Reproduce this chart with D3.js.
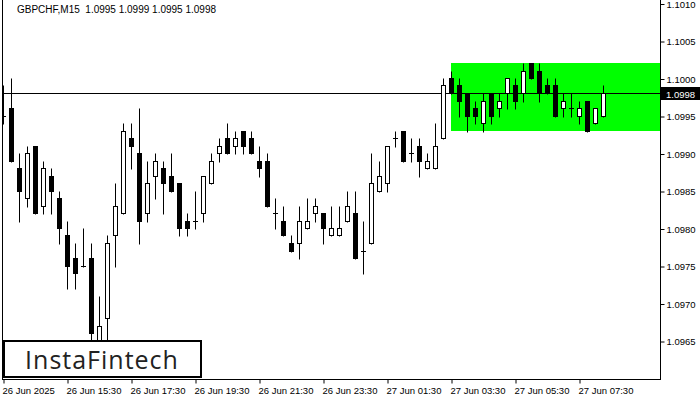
<!DOCTYPE html>
<html><head><meta charset="utf-8">
<script src="https://cdn.jsdelivr.net/npm/d3@7"></script>
<style>
html,body{margin:0;padding:0;background:#fff;}
svg{display:block;}
text{font-family:"Liberation Sans",Arial,sans-serif;}
</style></head>
<body>
<script>
// OHLC values (GBPCHF M15), one per bar
const opens  = [1.0995,1.0996,1.0988,1.0984,1.0991,1.0983,1.0987,1.0984,1.0979,1.0976,1.0975,1.0976,1.0964,1.0968,1.0979,1.0982,1.0992,1.0990,1.0982,1.0987,1.0988,1.0987,1.0986,1.0981,1.0981,1.0982,1.0986,1.0990,1.0992,1.0991,1.0993,1.0992,1.0989,1.0989,1.0982,1.0981,1.0978,1.0978,1.0980,1.0982,1.0982,1.0979,1.0979,1.0981,1.0982,1.0977,1.0978,1.0985,1.0986,1.0992,1.0993,1.0990,1.0991,1.0988,1.0988,1.0992,1.1000,1.0999,1.0998,1.0996,1.0994,1.0998,1.0996,1.0998,1.0999,1.0998,1.1002,1.1001,1.0999,1.0999,1.0996,1.0996,1.0995,1.0997,1.0994,1.0995];
const highs  = [1.0999,1.1000,1.0990,1.0991,1.0991,1.0989,1.0988,1.0985,1.0981,1.0978,1.0980,1.0978,1.0971,1.0979,1.0986,1.0994,1.0994,1.0996,1.0989,1.0990,1.0989,1.0990,1.0986,1.0982,1.0985,1.0987,1.0990,1.0992,1.0994,1.0993,1.0993,1.0993,1.0991,1.0990,1.0984,1.0983,1.0979,1.0983,1.0984,1.0984,1.0982,1.0983,1.0983,1.0985,1.0985,1.0981,1.0990,1.0989,1.0991,1.0993,1.0993,1.0992,1.0992,1.0990,1.0994,1.1000,1.1001,1.1000,1.0998,1.0997,1.0998,1.0998,1.0998,1.1000,1.1000,1.1002,1.1002,1.1002,1.1000,1.1000,1.0998,1.0998,1.0997,1.0997,1.0996,1.0999];
const lows   = [1.0994,1.0989,1.0981,1.0983,1.0982,1.0982,1.0982,1.0978,1.0972,1.0972,1.0975,1.0963,1.0962,1.0964,1.0975,1.0982,1.0988,1.0978,1.0981,1.0984,1.0982,1.0985,1.0979,1.0979,1.0980,1.0981,1.0986,1.0989,1.0990,1.0990,1.0990,1.0990,1.0987,1.0983,1.0980,1.0979,1.0977,1.0976,1.0980,1.0981,1.0978,1.0979,1.0979,1.0981,1.0976,1.0974,1.0978,1.0985,1.0985,1.0991,1.0989,1.0989,1.0987,1.0988,1.0988,1.0992,1.0998,1.0995,1.0993,1.0994,1.0993,1.0994,1.0995,1.0996,1.0996,1.0997,1.1000,1.0997,1.0998,1.0995,1.0995,1.0995,1.0994,1.0993,1.0994,1.0995];
const closes = [1.0995,1.0989,1.0985,1.0990,1.0982,1.0988,1.0985,1.0980,1.0975,1.0974,1.0975,1.0966,1.0967,1.0978,1.0983,1.0993,1.0991,1.0981,1.0986,1.0989,1.0986,1.0985,1.0980,1.0980,1.0981,1.0987,1.0989,1.0991,1.0990,1.0992,1.0991,1.0990,1.0988,1.0983,1.0982,1.0979,1.0977,1.0981,1.0981,1.0983,1.0980,1.0980,1.0980,1.0983,1.0976,1.0977,1.0986,1.0987,1.0991,1.0992,1.0989,1.0990,1.0989,1.0989,1.0991,1.0999,1.0998,1.0997,1.0995,1.0995,1.0997,1.0995,1.0997,1.1000,1.0997,1.1001,1.1000,1.0998,1.0998,1.0995,1.0997,1.0996,1.0996,1.0993,1.0996,1.0998];

const timeTickIndex = [0,8,16,24,32,40,48,56,64,72];
const timeTickLabels = ["26 Jun 2025","26 Jun 15:30","26 Jun 17:30","26 Jun 19:30","26 Jun 21:30","26 Jun 23:30","27 Jun 01:30","27 Jun 03:30","27 Jun 05:30","27 Jun 07:30"];
const priceTicks = [1.0965,1.0970,1.0975,1.0980,1.0985,1.0990,1.0995,1.1000,1.1005,1.1010];

const symbolTitle = "GBPCHF,M15  1.0995 1.0999 1.0995 1.0998";
const rangeStartIndex = 56, rangeTop = 1.1002, rangeBottom = 1.0993;
const lastPrice = 1.0998;
const logoText = "InstaFintech";

const W = 700, H = 400;
const plotL = 2, plotR = 660, plotB = 379;

const svg = d3.select("body").append("svg").attr("width", W).attr("height", H);

const x = d3.scaleLinear().domain([0, 82]).range([3.5, 659.5]);
const y = d3.scaleLinear().domain([1.0960, 1.1000]).range([379, 79]);

const defs = svg.append("defs");
defs.append("clipPath").attr("id","plotclip").append("rect")
  .attr("x", plotL + 1).attr("y", 0).attr("width", plotR - plotL - 1).attr("height", plotB);

const plot = svg.append("g").attr("clip-path","url(#plotclip)");

// green range rectangle
plot.append("rect")
  .attr("x", Math.round(x(rangeStartIndex)) - 1)
  .attr("y", Math.round(y(rangeTop)) - 1)
  .attr("width", plotR - (Math.round(x(rangeStartIndex)) - 1))
  .attr("height", Math.round(y(rangeBottom)) - Math.round(y(rangeTop)))
  .attr("fill", "#00ff00");

// last price line
const ly = Math.round(y(lastPrice)) - 0.5;
plot.append("line").attr("x1", plotL).attr("x2", plotR).attr("y1", ly).attr("y2", ly)
  .attr("stroke", "#000").attr("stroke-width", 1);

// candles
const bars = d3.range(opens.length).map(i => ({i, o: opens[i], h: highs[i], l: lows[i], c: closes[i]}));
const px = v => Math.round(y(v)) - 0.5;
const cg = plot.append("g");
bars.forEach(d => {
  const cx = x(d.i);
  cg.append("line").attr("x1", cx).attr("x2", cx)
    .attr("y1", px(d.h)).attr("y2", px(d.l) + 1)
    .attr("stroke", "#000").attr("stroke-width", 1);
  const yo = px(d.o), yc = px(d.c);
  if (d.o === d.c) {
    cg.append("line").attr("x1", cx - 2.5).attr("x2", cx + 2.5)
      .attr("y1", yo).attr("y2", yo).attr("stroke", "#000").attr("stroke-width", 1);
  } else if (d.c < d.o) {
    cg.append("rect").attr("x", cx - 2.5).attr("y", yo - 0.5)
      .attr("width", 5).attr("height", yc - yo + 1).attr("fill", "#000");
  } else {
    cg.append("rect").attr("x", cx - 2).attr("y", yc)
      .attr("width", 4).attr("height", yo - yc)
      .attr("fill", "#fff").attr("stroke", "#000").attr("stroke-width", 1);
  }
});

// frame
svg.append("line").attr("x1", plotL + 0.5).attr("x2", plotL + 0.5).attr("y1", 0).attr("y2", plotB + 0.5).attr("stroke", "#000");
svg.append("line").attr("x1", plotR + 0.5).attr("x2", plotR + 0.5).attr("y1", 0).attr("y2", plotB + 0.5).attr("stroke", "#000");
svg.append("line").attr("x1", plotL).attr("x2", plotR + 1).attr("y1", plotB + 0.5).attr("y2", plotB + 0.5).attr("stroke", "#000");

// price axis
const yAxis = d3.axisRight(y).tickValues(priceTicks).tickFormat(d3.format(".4f")).tickSize(4).tickPadding(2);
const ya = svg.append("g").attr("transform", `translate(${plotR + 0.5},0)`).call(yAxis);
ya.select(".domain").remove();
ya.selectAll(".tick line").attr("stroke", "#000");
ya.selectAll(".tick text").attr("fill", "#000").style("font-size", "9.5px").style("font-family", '"Liberation Sans",Arial,sans-serif');

// time axis
const xAxis = d3.axisBottom(x).tickValues(timeTickIndex).tickFormat((d, i) => timeTickLabels[i]).tickSize(4).tickPadding(4);
const xa = svg.append("g").attr("transform", `translate(0,${plotB + 0.5})`).call(xAxis);
xa.select(".domain").remove();
xa.selectAll(".tick line").attr("stroke", "#000");
xa.selectAll(".tick text").attr("fill", "#000").attr("text-anchor", "start").attr("dx", "-1.5")
  .style("font-size", "9.5px").style("font-family", '"Liberation Sans",Arial,sans-serif');

// last price label
const lpY = Math.round(y(lastPrice));
svg.append("rect").attr("x", plotR + 1).attr("y", lpY - 7).attr("width", W - plotR - 1).attr("height", 13).attr("fill", "#000");
svg.append("text").attr("x", plotR + 6).attr("y", lpY + 3.5).attr("fill", "#fff")
  .style("font-size", "9.5px").text(d3.format(".4f")(lastPrice));

// title
svg.append("text").attr("x", 17).attr("y", 13).attr("fill", "#000").style("font-size", "10px")
  .attr("xml:space", "preserve").style("white-space", "pre").text(symbolTitle);

// logo
svg.append("rect").attr("x", 4).attr("y", 341).attr("width", 197).attr("height", 36)
  .attr("fill", "#fff").attr("stroke", "#000").attr("stroke-width", 2);
svg.append("text").attr("x", 102).attr("y", 369).attr("text-anchor", "middle")
  .style("font-family", '"Open Sans","Lato",sans-serif').style("font-size", "25px").style("font-weight", "500")
  .style("letter-spacing", "1px")
  .attr("fill", "#222").text(logoText);
</script>
</body></html>
